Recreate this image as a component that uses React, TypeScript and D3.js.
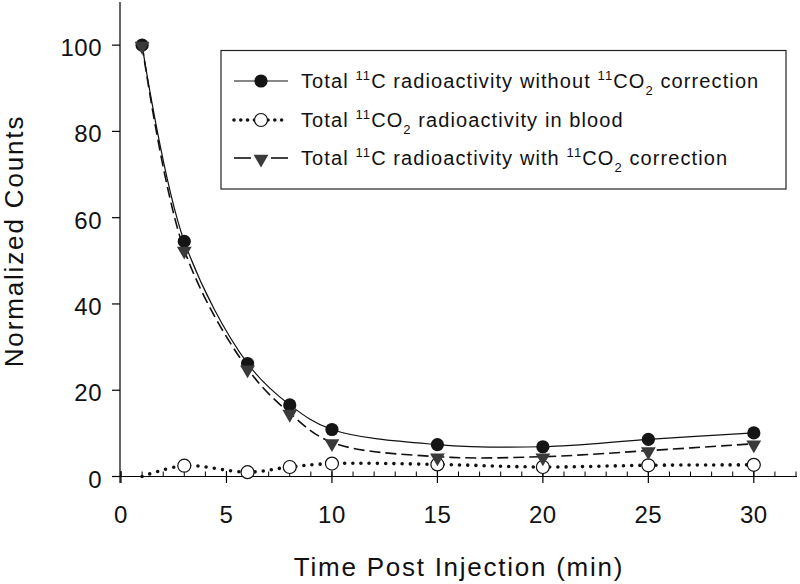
import React from "react";
import * as d3 from "d3";

const times = [1, 3, 6, 8, 10, 15, 20, 25, 30];
const withoutCorrection = [100, 54.5, 26.2, 16.6, 10.9, 7.4, 6.9, 8.6, 10.1];
const co2Blood = [0, 2.5, 1.0, 2.2, 3.0, 2.8, 2.2, 2.6, 2.7];
const withCorrection = [100, 52.5, 25.0, 14.7, 7.9, 4.6, 4.6, 6.0, 7.6];
const xTicks = [0, 5, 10, 15, 20, 25, 30];
const xMinorTicks = d3.range(0, 33, 1);
const yTicks = [0, 20, 40, 60, 80, 100];

const W = 800;
const H = 584;
const FONT = "'Liberation Sans', Arial, sans-serif";

export default function App() {
  const x = d3.scaleLinear().domain([0, 32]).range([121, 796]);
  const y = d3.scaleLinear().domain([0, 110]).range([476.5, 2]);
  const curve = d3.curveCatmullRom.alpha(0.5);
  const mk = (vals: number[]) =>
    d3
      .line<number>()
      .x((_, i) => x(times[i]))
      .y((d) => y(d))
      .curve(curve)(vals) as string;

  const tri = d3.symbol().type(d3.symbolTriangle).size(95)() as string;

  const legendRows = [
    { y: 81, kind: "solid" },
    { y: 120, kind: "dot" },
    { y: 158, kind: "dash" },
  ];

  const sup = { fontSize: 13 } as const;
  const LS = 1.1;

  return (
    <svg width={W} height={H} style={{ position: "absolute", left: 0, top: 0 }} fontFamily={FONT}>
      <rect width={W} height={H} fill="#fff" />
      {/* axes */}
      <line x1={120} x2={120} y1={2} y2={483} stroke="#000" strokeWidth={1.2} />
      <line x1={112} x2={797} y1={476.5} y2={476.5} stroke="#000" strokeWidth={1.2} />
      {xMinorTicks.map((t) => (
        <line key={"m" + t} x1={x(t)} x2={x(t)} y1={471.5} y2={476.5} stroke="#000" strokeWidth={1} />
      ))}
      {xTicks.map((t) => (
        <g key={"x" + t}>
          <line x1={x(t)} x2={x(t)} y1={471} y2={483} stroke="#000" strokeWidth={1.2} />
          <text x={x(t)} y={523} textAnchor="middle" fontSize={24} fill="#111" letterSpacing={0.5}>
            {t}
          </text>
        </g>
      ))}
      {yTicks.map((t) => (
        <g key={"y" + t}>
          <line x1={112} x2={120} y1={y(t)} y2={y(t)} stroke="#000" strokeWidth={1.2} />
          <text x={102} y={y(t) + 11} textAnchor="end" fontSize={24} fill="#111" letterSpacing={0.5}>
            {t}
          </text>
        </g>
      ))}
      <text x={459} y={576} textAnchor="middle" fontSize={26} fill="#111" letterSpacing={1.75}>
        Time Post Injection (min)
      </text>
      <text
        transform={`translate(23,241) rotate(-90)`}
        textAnchor="middle"
        fontSize={26}
        fill="#111"
        letterSpacing={1.85}
      >
        Normalized Counts
      </text>

      {/* lines */}
      <path d={mk(withoutCorrection)} fill="none" stroke="#111" strokeWidth={1.2} />
      <path d={mk(withCorrection)} fill="none" stroke="#111" strokeWidth={1.6} strokeDasharray="11 5" />
      <path
        d={mk(co2Blood)}
        fill="none"
        stroke="#111"
        strokeWidth={3.6}
        strokeDasharray="0 8.2"
        strokeLinecap="round"
      />

      {/* markers */}
      {co2Blood.map((v, i) =>
        v > 0 ? (
          <circle key={"c2" + i} cx={x(times[i])} cy={y(v)} r={6.5} fill="#fff" stroke="#111" strokeWidth={1.2} />
        ) : null
      )}
      {withoutCorrection.map((v, i) => (
        <circle key={"c1" + i} cx={x(times[i])} cy={y(v)} r={6.6} fill="#151515" />
      ))}
      {withCorrection.map((v, i) => (
        <path key={"t" + i} d={tri} transform={`translate(${x(times[i])},${y(v) + 1}) rotate(180)`} fill="#3a3a3a" />
      ))}

      {/* legend */}
      <rect x={221} y={50.5} width={565} height={138.5} fill="#fff" stroke="#222" strokeWidth={1.2} />
      {legendRows.map((r) => (
        <g key={r.kind}>
          {r.kind === "solid" && (
            <>
              <line x1={234} x2={288} y1={r.y} y2={r.y} stroke="#111" strokeWidth={1.2} />
              <circle cx={261} cy={r.y} r={6.6} fill="#151515" />
            </>
          )}
          {r.kind === "dot" && (
            <>
              <line
                x1={234}
                x2={288}
                y1={r.y}
                y2={r.y}
                stroke="#111"
                strokeWidth={3.6}
                strokeDasharray="0 6.8"
                strokeLinecap="round"
              />
              <circle cx={261} cy={r.y} r={6.5} fill="#fff" stroke="#111" strokeWidth={1.2} />
            </>
          )}
          {r.kind === "dash" && (
            <>
              <line x1={234} x2={251} y1={r.y} y2={r.y} stroke="#111" strokeWidth={1.6} />
              <line x1={271} x2={288} y1={r.y} y2={r.y} stroke="#111" strokeWidth={1.6} />
              <path d={tri} transform={`translate(261,${r.y + 1}) rotate(180)`} fill="#3a3a3a" />
            </>
          )}
        </g>
      ))}
      <text x={301} y={88} fontSize={20} fill="#111" letterSpacing={LS}>
        Total{" "}
        <tspan dy={-8} style={sup}>11</tspan>
        <tspan dy={8}>C radioactivity without </tspan>
        <tspan dy={-8} style={sup}>11</tspan>
        <tspan dy={8}>CO</tspan>
        <tspan dy={7} style={sup}>2</tspan>
        <tspan dy={-7}> correction</tspan>
      </text>
      <text x={301} y={127} fontSize={20} fill="#111" letterSpacing={LS}>
        Total{" "}
        <tspan dy={-8} style={sup}>11</tspan>
        <tspan dy={8}>CO</tspan>
        <tspan dy={7} style={sup}>2</tspan>
        <tspan dy={-7}> radioactivity in blood</tspan>
      </text>
      <text x={301} y={165} fontSize={20} fill="#111" letterSpacing={LS}>
        Total{" "}
        <tspan dy={-8} style={sup}>11</tspan>
        <tspan dy={8}>C radioactivity with </tspan>
        <tspan dy={-8} style={sup}>11</tspan>
        <tspan dy={8}>CO</tspan>
        <tspan dy={7} style={sup}>2</tspan>
        <tspan dy={-7}> correction</tspan>
      </text>
    </svg>
  );
}
